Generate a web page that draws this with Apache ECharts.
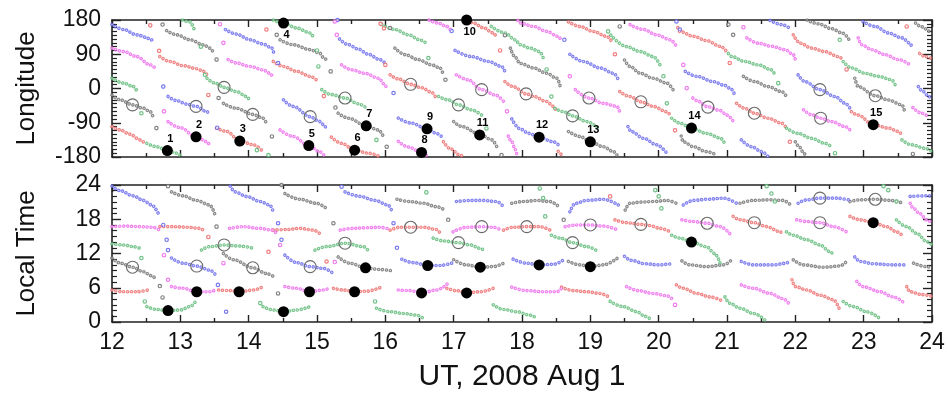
<!DOCTYPE html>
<html><head><meta charset="utf-8">
<script src="https://cdn.jsdelivr.net/npm/echarts@6/dist/echarts.min.js"></script>
<style>html,body{margin:0;padding:0;background:#fff}#c{width:948px;height:397px}</style>
</head><body><div id="c"></div>
<script>
// ---------- axis ticks ----------
const utTicks = [12,13,14,15,16,17,18,19,20,21,22,23,24];
const lonTicks = [-180,-90,0,90,180];
const ltTicks = [0,6,12,18,24];

// ---------- Longitude panel: dense track segments [UT, lon] ----------
const blackLon = [
 [[12.0,-17],[12.12,-30],[12.30,-43],[12.46,-52],[12.56,-61],[12.60,-74]],
 [[12.80,152],[12.95,141],[13.14,128],[13.34,115],[13.43,106],[13.49,93]],
 [[13.63,-39],[13.82,-52],[14.06,-68],[14.21,-78],[14.26,-91]],
 [[14.46,128],[14.65,115],[14.90,102],[15.04,93],[15.10,80],[15.16,71]],
 [[15.31,-65],[15.46,-78],[15.72,-98],[15.90,-109],[15.97,-126]],
 [[16.14,106],[16.29,89],[16.48,76],[16.68,62],[16.80,54],[16.85,36]],
 [[17.0,-87],[17.12,-100],[17.38,-120],[17.56,-135],[17.63,-153]],
 [[17.83,106],[17.90,82],[17.97,66],[18.17,54],[18.36,40],[18.51,27],[18.56,5]],
 [[18.68,-113],[18.85,-126],[19.0,-140],[19.19,-153],[19.34,-166],[19.39,-175]],
 [[19.50,75],[19.58,58],[19.73,40],[19.92,27],[20.12,14],[20.21,-3]],
 [[20.33,-125],[20.36,-140],[20.51,-153],[20.70,-166],[20.85,-175]],
 [[21.24,32],[21.41,18],[21.60,5],[21.80,-8],[21.87,-21]],
 [[22.0,-140],[22.07,-155],[22.12,-170],[22.17,-180]],
 [[22.17,180],[22.34,170],[22.53,157],[22.70,145],[22.80,124]],
 [[22.87,27],[22.92,5],[23.17,-19],[23.36,-30],[23.56,-43],[23.60,-61]],
 [[23.76,172],[23.85,162],[23.97,150],[24.0,146]]
];
const blackLonDots = [[12.65,-104],[12.74,168],[13.53,76],[13.56,-25],[14.34,-126],[14.41,141],[15.20,45],[15.27,-50],[16.02,-153],[16.07,159],[16.88,23],[17.70,-175],[17.75,140],[19.43,163],[21.02,168],[21.09,141],[23.72,-172]];

const redLon = [
 [[12.0,-100],[12.12,-109],[12.26,-120],[12.41,-135],[12.48,-144]],
 [[12.70,84],[12.85,71],[13.04,60],[13.24,52],[13.34,45],[13.39,36]],
 [[13.53,-104],[13.68,-113],[13.87,-138],[14.07,-148],[14.21,-166]],
 [[14.36,71],[14.51,58],[14.70,45],[14.90,32],[15.02,18]],
 [[15.21,-128],[15.36,-144],[15.55,-162],[15.75,-170],[15.92,-179]],
 [[16.07,36],[16.19,25],[16.37,11],[16.53,2],[16.68,-10],[16.73,-21]],
 [[16.85,-140],[16.95,-158],[17.09,-175],[17.15,-180]],
 [[17.15,180],[17.19,178],[17.29,172],[17.43,160],[17.58,146],[17.63,133]],
 [[17.75,18],[17.87,5],[18.06,-14],[18.17,-21],[18.36,-34],[18.46,-47],[18.50,-60]],
 [[18.53,-165],[18.60,-178]],
 [[18.68,175],[18.85,163],[19.04,150],[19.24,137],[19.31,124]],
 [[19.43,-8],[19.58,-21],[19.74,-35],[19.92,-47],[20.12,-61],[20.17,-70]],
 [[20.28,160],[20.31,150],[20.51,137],[20.70,126],[20.90,111],[20.99,98]],
 [[21.14,-39],[21.26,-52],[21.40,-65],[21.60,-78],[21.80,-91],[21.87,-104]],
 [[21.97,141],[22.07,119],[22.24,106],[22.43,97],[22.63,84],[22.70,75]],
 [[22.82,-61],[22.92,-70],[23.14,-95],[23.36,-104],[23.51,-113],[23.56,-122]],
 [[23.82,92],[23.90,84],[24.0,78]]
];
const redLonDots = [[12.56,166],[12.69,99],[13.41,-17],[14.26,155],[15.10,-20],[15.93,170],[15.98,158],[16.0,62],[17.68,100],[19.36,90],[20.24,-110],[21.04,67],[21.92,-140],[22.75,50],[23.63,163]];

const blueLon = [
 [[12.0,168],[12.17,155],[12.36,141],[12.56,131],[12.60,122]],
 [[12.82,-21],[12.95,-32],[13.09,-41],[13.23,-47],[13.39,-61],[13.43,-70]],
 [[13.66,155],[13.82,143],[14.02,128],[14.21,117],[14.34,106],[14.37,92]],
 [[14.51,-30],[14.65,-47],[14.90,-74],[15.02,-85],[15.10,-95],[15.14,-108]],
 [[15.33,130],[15.46,115],[15.60,104],[15.75,90],[15.92,76],[16.02,62]],
 [[16.19,-78],[16.38,-91],[16.61,-106],[16.75,-118],[16.85,-131]],
 [[17.02,100],[17.26,84],[17.51,71],[17.70,58],[17.75,45]],
 [[17.85,-80],[17.97,-106],[18.10,-118],[18.25,-128],[18.46,-140],[18.56,-153]],
 [[18.70,90],[18.90,71],[19.14,54],[19.34,40],[19.41,23]],
 [[19.55,-100],[19.60,-113],[19.78,-131],[19.97,-148],[20.12,-170]],
 [[20.39,45],[20.56,32],[20.80,18],[20.97,8],[21.07,-3],[21.12,-21]],
 [[21.21,-135],[21.36,-153],[21.51,-166],[21.60,-179]],
 [[21.63,179],[21.80,168],[21.92,158]],
 [[22.04,36],[22.14,18],[22.36,-3],[22.58,-21],[22.73,-39],[22.80,-52]],
 [[22.99,176],[23.17,163],[23.36,146],[23.56,133],[23.68,119],[23.70,111]],
 [[23.80,5],[23.87,-8],[23.95,-21],[24.0,-28]]
];
const blueLonDots = [[12.75,5],[13.54,-103],[14.43,67],[15.30,180],[16.12,-12],[16.97,151],[18.62,128],[20.26,176],[20.31,155]];

const magentaLon = [
 [[12.0,106],[12.17,97],[12.36,84],[12.56,62],[12.63,54]],
 [[12.82,-87],[13.0,-103],[13.23,-127],[13.39,-140],[13.43,-150]],
 [[13.70,76],[13.82,67],[14.02,58],[14.21,49],[14.31,40],[14.36,27]],
 [[14.46,-109],[14.65,-126],[14.88,-150],[15.04,-166],[15.10,-175]],
 [[15.36,62],[15.51,49],[15.70,40],[15.90,27],[16.0,9],[16.02,-4]],
 [[16.19,-139],[16.34,-154],[16.53,-168],[16.62,-179]],
 [[16.64,180],[16.77,172],[16.90,163],[16.97,150]],
 [[17.04,36],[17.21,23],[17.41,-3],[17.61,-17],[17.73,-34]],
 [[17.80,-125],[17.85,-140],[17.90,-160],[17.93,-179]],
 [[17.94,179],[17.97,172],[18.17,163],[18.36,150],[18.53,137],[18.58,124]],
 [[18.78,-3],[18.98,-25],[19.19,-39],[19.39,-47],[19.43,-61]],
 [[19.58,168],[19.78,155],[19.97,141],[20.17,128],[20.26,111]],
 [[20.50,-25],[20.56,-32],[20.72,-48],[20.90,-58],[21.0,-70],[21.10,-88]],
 [[21.29,133],[21.46,119],[21.65,111],[21.85,102],[21.97,89],[22.0,76]],
 [[22.12,-56],[22.24,-69],[22.37,-78],[22.53,-87],[22.73,-100],[22.80,-109]],
 [[22.92,133],[22.97,115],[23.12,102],[23.31,89],[23.51,76],[23.68,62]],
 [[23.72,-50],[23.85,-65],[23.95,-75]]
];
const magentaLonDots = [[12.76,-60],[13.58,169],[13.63,120],[15.26,176],[15.29,141],[17.78,-60],[18.70,32],[20.36,62],[20.41,1],[21.24,161]];

const greenLon = [
 [[12.0,27],[12.17,14],[12.31,5],[12.38,-12]],
 [[12.51,-144],[12.65,-153],[12.81,-163],[12.95,-170],[13.02,-179]],
 [[13.03,180],[13.14,175],[13.21,152]],
 [[13.39,27],[13.51,14],[13.64,3],[13.82,-8],[13.97,-21],[14.01,-30]],
 [[14.36,180],[14.51,172],[14.70,159],[14.90,146],[14.95,133]],
 [[15.07,-3],[15.21,-16],[15.41,-25],[15.60,-40],[15.73,-52]],
 [[15.95,168],[16.14,155],[16.34,141],[16.50,128],[16.60,119]],
 [[16.78,-21],[16.92,-30],[17.07,-43],[17.26,-56],[17.41,-70]],
 [[17.55,163],[17.75,146],[17.90,128],[17.97,115],[18.12,106],[18.26,97],[18.31,80]],
 [[18.48,-52],[18.61,-61],[18.74,-72],[18.95,-87],[19.14,-109]],
 [[19.30,140],[19.53,110],[19.73,97],[19.92,84],[20.02,62]],
 [[20.19,-78],[20.31,-91],[20.48,-104],[20.70,-118],[20.90,-130],[20.97,-145]],
 [[21.02,92],[21.07,84],[21.26,71],[21.46,62],[21.65,49],[21.70,36]],
 [[21.87,-104],[22.04,-118],[22.24,-131],[22.43,-144],[22.53,-153]],
 [[22.70,71],[22.82,54],[23.02,40],[23.21,32],[23.41,23],[23.46,10]],
 [[23.56,-135],[23.70,-148],[23.90,-157],[24.0,-166]]
];
const greenLonDots = [[12.43,-65],[13.30,110],[13.36,36],[14.12,-162],[14.29,-175],[15.0,100],[15.02,58],[15.87,-135],[16.63,80],[17.48,-105],[18.36,50],[18.43,-21],[19.26,150],[20.07,32],[20.12,-39],[21.75,14],[22.58,-170],[22.65,128]];

// ---------- Local Time panel: dense track segments [UT, LT] ----------
const blackLT = [
 [[12.0,11.2],[12.12,10.3],[12.30,9.6],[12.46,8.8],[12.58,8.1],[12.65,7.4]],
 [[12.87,22.8],[13.04,22.1],[13.24,21.3],[13.43,20.5],[13.51,18.7]],
 [[13.63,12.0],[13.78,10.9],[14.06,9.5],[14.26,8.5],[14.36,8.0]],
 [[14.53,22.5],[14.75,21.5],[14.99,20.8],[15.14,19.9]],
 [[15.31,11.4],[15.48,10.3],[15.71,9.5],[15.92,9.2],[16.09,9.0]],
 [[16.17,21.5],[16.36,21.1],[16.56,20.8],[16.75,20.2],[16.87,19.6]],
 [[17.0,10.9],[17.19,10.0],[17.39,9.6],[17.58,9.7],[17.73,10.3]],
 [[17.85,20.8],[18.02,21.1],[18.22,21.3],[18.41,21.1],[18.53,20.3]],
 [[18.68,10.6],[18.85,10.0],[19.0,9.7],[19.19,10.0],[19.41,11.3]],
 [[19.51,19.6],[19.58,20.8],[19.73,21.0],[19.92,21.1],[20.12,21.3],[20.26,20.8]],
 [[20.34,10.7],[20.46,10.0],[20.70,9.7],[20.95,10.0],[21.07,10.9]],
 [[21.19,20.8],[21.39,21.3],[21.63,21.4],[21.82,21.3],[21.95,20.3]],
 [[21.97,10.9],[22.12,10.0],[22.41,9.6],[22.65,9.8],[22.75,10.6]],
 [[22.80,21.1],[22.95,21.4],[23.17,21.5],[23.39,21.3],[23.58,20.8]],
 [[23.73,10.3],[23.92,9.7],[24.0,9.5]]
];
const blackLTDots = [[12.70,6.3],[12.74,4.3],[12.82,23.8],[13.53,16.7],[14.43,5.0],[14.48,24.0],[15.24,17.3],[16.92,17.9],[18.61,17.9]];

const redLT = [
 [[12.0,5.6],[12.17,5.3],[12.36,5.3],[12.56,5.7]],
 [[12.70,16.7],[12.90,16.7],[13.09,16.6],[13.29,16.4],[13.36,15.8]],
 [[13.56,5.6],[13.73,5.5],[13.86,5.3],[14.07,5.6],[14.21,6.2]],
 [[14.36,16.1],[14.56,16.2],[14.75,16.4],[14.95,16.1],[15.04,15.5]],
 [[15.24,5.9],[15.39,5.6],[15.55,5.3],[15.73,5.4],[15.92,6.0]],
 [[16.07,16.1],[16.22,16.6],[16.37,16.6],[16.56,16.6],[16.75,16.2],[16.80,15.6]],
 [[16.90,5.9],[17.04,5.5],[17.19,5.1],[17.39,5.3],[17.58,5.9]],
 [[17.73,16.1],[17.87,16.6],[18.07,16.7],[18.26,16.7],[18.41,16.1]],
 [[18.58,6.1],[18.75,5.5],[18.95,5.3],[19.14,5.0],[19.27,4.4]],
 [[19.36,17.9],[19.53,17.4],[19.74,17.1],[19.87,16.9],[20.02,16.4],[20.17,15.8]],
 [[20.26,6.5],[20.36,5.9],[20.56,5.0],[20.75,4.4],[20.95,3.6]],
 [[21.09,18.5],[21.19,17.9],[21.40,17.4],[21.58,16.7],[21.78,15.8],[21.82,15.2]],
 [[21.95,7.4],[22.0,6.2],[22.17,5.6],[22.36,4.7],[22.56,3.9],[22.65,2.1]],
 [[22.80,18.5],[22.95,17.9],[23.14,17.4],[23.34,16.7],[23.48,15.8],[23.56,15.2]],
 [[23.63,6.2],[23.68,5.3],[23.85,4.8],[24.0,4.5]]
];
const redLTDots = [[13.41,14.9],[14.29,12.3],[15.14,10.6],[19.29,22.0]];

const blueLT = [
 [[12.0,23.8],[12.12,23.0],[12.31,22.1],[12.46,21.3],[12.58,20.5],[12.69,18.7]],
 [[12.87,11.2],[13.04,10.3],[13.24,9.8],[13.43,9.1],[13.52,8.2]],
 [[13.73,23.8],[13.80,22.8],[13.97,22.0],[14.17,21.1],[14.31,20.5],[14.36,19.3]],
 [[14.53,11.7],[14.70,10.4],[14.90,9.7],[15.09,9.4],[15.24,8.5]],
 [[15.41,22.8],[15.63,22.0],[15.85,21.3],[16.04,20.5],[16.09,19.6]],
 [[16.24,11.0],[16.41,10.4],[16.62,9.9],[16.80,9.9],[16.97,10.3]],
 [[17.04,21.1],[17.24,21.3],[17.43,21.3],[17.63,21.1],[17.73,20.2]],
 [[17.87,11.0],[18.07,10.3],[18.25,10.0],[18.46,10.1],[18.61,10.9]],
 [[18.70,19.3],[18.78,20.8],[18.95,21.3],[19.19,21.5],[19.41,20.5]],
 [[19.50,11.5],[19.60,10.8],[19.80,10.2],[20.0,10.0],[20.12,10.1],[20.21,10.3]],
 [[20.36,20.5],[20.51,21.3],[20.70,21.5],[20.95,21.7],[21.14,20.8]],
 [[21.21,10.6],[21.39,10.0],[21.68,10.0],[21.87,10.3],[21.92,10.9]],
 [[22.04,20.8],[22.17,21.4],[22.36,21.7],[22.60,21.7],[22.78,21.4]],
 [[22.87,11.4],[22.95,10.6],[23.14,10.2],[23.43,10.0],[23.63,10.0]],
 [[23.68,22.0],[23.92,22.1],[24.0,22.1]]
];
const blueLTDots = [[12.75,17.0],[12.80,14.4],[12.82,12.6],[13.55,6.5],[13.67,1.8],[14.43,17.3],[14.48,14.4],[15.36,23.7],[16.12,17.3],[16.17,13.0]];

const magentaLT = [
 [[12.0,16.7],[12.21,16.8],[12.41,16.7],[12.60,16.6],[12.70,16.1]],
 [[12.87,6.2],[13.04,5.9],[13.24,5.3],[13.43,5.3],[13.53,5.7]],
 [[13.72,16.4],[13.92,16.7],[14.17,16.4],[14.34,16.1],[14.41,15.5]],
 [[14.53,6.2],[14.70,5.9],[14.89,5.3],[15.09,5.6],[15.19,6.0]],
 [[15.34,16.1],[15.53,16.4],[15.73,16.5],[15.92,16.6],[16.05,16.3]],
 [[16.19,5.6],[16.36,5.5],[16.53,5.1],[16.75,5.6],[16.92,6.8]],
 [[16.99,15.8],[17.19,16.6],[17.41,16.7],[17.58,16.6],[17.70,16.1]],
 [[17.85,6.1],[18.07,5.5],[18.31,5.3],[18.51,5.3],[18.58,5.9]],
 [[18.63,16.7],[18.80,17.0],[19.0,17.0],[19.19,16.8],[19.41,16.1]],
 [[19.53,6.2],[19.70,5.5],[19.92,5.0],[20.12,4.6],[20.21,3.9]],
 [[20.34,17.9],[20.51,17.6],[20.71,17.3],[20.90,16.7],[21.04,15.5]],
 [[21.21,6.5],[21.39,5.9],[21.63,5.0],[21.82,4.1],[21.92,3.0]],
 [[22.02,17.9],[22.17,17.6],[22.36,17.4],[22.56,16.7],[22.75,15.8]],
 [[22.90,7.1],[22.99,6.2],[23.24,5.3],[23.43,4.4],[23.60,3.3]],
 [[23.68,20.8],[23.73,19.9],[23.82,19.0],[23.92,17.9],[24.0,17.3]]
];
const magentaLTDots = [[12.76,11.7],[12.82,7.4],[13.63,10.3],[14.46,13.5],[15.26,10.5],[20.24,3.0]];

const greenLT = [
 [[12.0,13.7],[12.17,13.5],[12.31,13.2],[12.41,12.9]],
 [[12.51,2.7],[12.65,2.2],[12.82,2.0],[13.0,2.1],[13.14,2.7],[13.24,3.9]],
 [[13.31,12.6],[13.43,13.2],[13.64,13.5],[13.87,13.3],[14.07,12.9]],
 [[14.21,2.7],[14.36,2.1],[14.51,1.8],[14.70,2.1],[14.90,2.7]],
 [[14.97,12.6],[15.14,13.2],[15.41,13.8],[15.68,13.2],[15.75,12.5]],
 [[15.87,2.4],[16.07,1.8],[16.26,1.5],[16.46,1.2],[16.56,0.6]],
 [[16.70,14.7],[16.85,14.2],[17.07,13.9],[17.24,13.5],[17.39,12.9],[17.46,12.3]],
 [[17.58,3.0],[17.73,2.2],[17.92,1.8],[18.12,1.2],[18.22,0.6]],
 [[18.43,15.2],[18.56,14.7],[18.74,13.9],[18.95,13.2],[19.12,12.3]],
 [[19.29,3.6],[19.48,2.7],[19.68,1.8],[19.80,1.0],[19.90,0.3]],
 [[20.19,15.2],[20.31,14.7],[20.48,14.0],[20.70,13.2],[20.82,12.0],[20.90,10.3]],
 [[20.97,4.4],[21.04,3.3],[21.19,2.4],[21.39,1.5],[21.56,0.3]],
 [[21.87,15.8],[21.97,15.2],[22.17,14.4],[22.36,13.5],[22.51,12.3],[22.56,11.7]],
 [[22.70,3.6],[22.85,2.7],[23.04,1.8],[23.24,0.6]],
 [[23.48,17.9],[23.63,16.7],[23.78,15.5],[23.92,14.1],[24.0,13.5]]
];
const greenLTDots = [[12.43,11.2],[12.48,3.6],[14.17,3.3],[15.85,3.6],[16.60,22.7],[18.26,23.4],[18.31,21.7],[18.34,18.5],[19.95,23.1],[20.0,22.0],[20.04,19.9],[21.58,23.8],[21.65,22.5],[21.70,21.1],[23.29,23.8],[23.36,23.1],[23.48,21.1]];

// ---------- highlighted points ----------
const eventNumbers = [1,2,3,4,5,6,7,8,9,10,11,12,13,14,15];
const eventLon = [[12.81,-163],[13.23,-127],[13.87,-138],[14.51,172],[14.88,-150],[15.55,-162],[15.72,-98],[16.53,-168],[16.61,-106],[17.19,180],[17.38,-122],[18.25,-128],[19.0,-140],[20.48,-104],[23.14,-95]];
const eventLT = [[12.82,2.0],[13.24,5.3],[13.86,5.3],[14.51,1.8],[14.89,5.3],[15.55,5.3],[15.71,9.5],[16.53,5.1],[16.62,9.9],[17.19,5.1],[17.39,9.6],[18.25,10.0],[19.0,9.7],[20.48,14.0],[23.14,17.4]];
const ringLon = [[12.30,-43],[13.23,-47],[13.64,3],[14.06,-68],[14.90,-74],[15.41,-25],[16.37,11],[17.07,-43],[17.41,-3],[18.06,-14],[18.74,-72],[18.98,-25],[19.74,-35],[20.72,-49],[21.40,-65],[22.36,-3],[22.37,-78],[23.17,-19]];
const ringLT = [[12.30,9.6],[13.24,9.8],[13.64,13.5],[14.06,9.5],[14.90,9.7],[15.41,13.8],[16.37,16.6],[17.07,13.9],[17.41,16.7],[18.07,16.7],[18.74,13.9],[19.0,17.0],[19.74,17.1],[20.71,17.3],[21.40,17.4],[22.36,21.7],[22.36,17.4],[23.17,21.5]];

// ---------- build chart ----------
const FONT = 'Liberation Sans, Arial, sans-serif';
const COL = {black:'#6c6c6c', red:'#ec6464', blue:'#6262ec', magenta:'#ec64ec', green:'#58b672'};
const chart = echarts.init(document.getElementById('c'), null, {renderer:'canvas'});

const DASH = [0.01, 3.9];
function tracks(segs, color, xi, yi) {
  const out = [];
  segs.forEach(seg => {
    out.push({type:'line', xAxisIndex:xi, yAxisIndex:yi, data:seg, smooth:0.35, smoothMonotone:'x',
      symbol:'none', silent:true, z:2,
      lineStyle:{color:color, width:3.6, type:DASH, cap:'round', opacity:0.8}});
    out.push({type:'line', xAxisIndex:xi, yAxisIndex:yi, data:seg, smooth:0.35, smoothMonotone:'x',
      symbol:'none', silent:true, z:3,
      lineStyle:{color:'#ffffff', width:1.3, type:DASH, cap:'round', opacity:0.75}});
  });
  return out;
}
function dots(pts, color, xi, yi) {
  return {type:'scatter', xAxisIndex:xi, yAxisIndex:yi, data:pts, symbol:'circle', symbolSize:3.4,
    itemStyle:{color:'rgba(255,255,255,0.8)', borderColor:color, borderWidth:1.2, opacity:0.85}, silent:true, z:2};
}
const axLine = {show:true, onZero:false, lineStyle:{color:'#222', width:1.6}};
const tick = (len) => ({show:true, inside:true, length:len, lineStyle:{color:'#222', width:1.4}});
function xAx(grid, pos, labels, name) {
  return {type:'value', gridIndex:grid, position:pos, min:12, max:24, interval:1,
    axisLine:axLine, axisTick:tick(7), minorTick:{show:true, splitNumber:2, length:4, lineStyle:{color:'#222', width:1.4}},
    splitLine:{show:false}, minorSplitLine:{show:false},
    axisLabel:{show:labels, fontSize:23, color:'#111', margin:9, fontFamily:FONT},
    name:name||'', nameLocation:'middle', nameGap:40, nameTextStyle:{fontSize:30, color:'#111', fontFamily:FONT}};
}
function yAx(grid, pos, min, max, interval, minorSplit, labels, name) {
  return {type:'value', gridIndex:grid, position:pos, min:min, max:max, interval:interval,
    axisLine:axLine, axisTick:tick(9), minorTick:{show:true, splitNumber:minorSplit, length:5, lineStyle:{color:'#222', width:1.2}},
    splitLine:{show:false}, minorSplitLine:{show:false},
    axisLabel:{show:labels, fontSize:23, color:'#111', margin:11, fontFamily:FONT},
    name:name||'', nameLocation:'middle', nameGap:72, nameTextStyle:{fontSize:26, color:'#111', fontFamily:FONT}};
}

const series = [];
const groupsLon = [[blackLon,blackLonDots,'black'],[redLon,redLonDots,'red'],[blueLon,blueLonDots,'blue'],[magentaLon,magentaLonDots,'magenta'],[greenLon,greenLonDots,'green']];
const groupsLT = [[blackLT,blackLTDots,'black'],[redLT,redLTDots,'red'],[blueLT,blueLTDots,'blue'],[magentaLT,magentaLTDots,'magenta'],[greenLT,greenLTDots,'green']];
groupsLon.forEach(g => { series.push(...tracks(g[0], COL[g[2]], 0, 0)); series.push(dots(g[1], COL[g[2]], 0, 0)); });
groupsLT.forEach(g => { series.push(...tracks(g[0], COL[g[2]], 2, 2)); series.push(dots(g[1], COL[g[2]], 2, 2)); });

const ringStyle = {color:'rgba(255,255,255,0)', borderColor:'#6a6a6a', borderWidth:1.1, opacity:1};
series.push({type:'scatter', xAxisIndex:0, yAxisIndex:0, data:ringLon, symbol:'circle', symbolSize:12, itemStyle:ringStyle, silent:true, z:4});
series.push({type:'scatter', xAxisIndex:2, yAxisIndex:2, data:ringLT, symbol:'circle', symbolSize:12, itemStyle:ringStyle, silent:true, z:4});
series.push({type:'scatter', xAxisIndex:0, yAxisIndex:0, symbol:'circle', symbolSize:11, itemStyle:{color:'#000', opacity:1}, silent:true, z:5, clip:false,
  data:eventLon.map((p,i)=>({value:p, label:{show:true, formatter:String(eventNumbers[i]),
    position: p[1] > 150 ? 'bottom' : 'top', distance: 1, offset:[3,0]}})),
  label:{fontSize:11, fontWeight:'bold', color:'#000', fontFamily:FONT}});
series.push({type:'scatter', xAxisIndex:2, yAxisIndex:2, data:eventLT, symbol:'circle', symbolSize:11, itemStyle:{color:'#000', opacity:1}, silent:true, z:5});

chart.setOption({
  animation:false,
  backgroundColor:'#fff',
  grid:[{left:112, right:16, top:20, height:137}, {left:112, right:16, top:185, height:137}],
  xAxis:[xAx(0,'bottom',false), xAx(0,'top',false), xAx(1,'bottom',true,'UT, 2008 Aug 1'), xAx(1,'top',false)],
  yAxis:[yAx(0,'left',-180,180,90,9,true,'Longitude'), yAx(0,'right',-180,180,90,9,false),
         yAx(1,'left',0,24,6,6,true,'Local Time'), yAx(1,'right',0,24,6,6,false)],
  series:series
});
</script></body></html>
